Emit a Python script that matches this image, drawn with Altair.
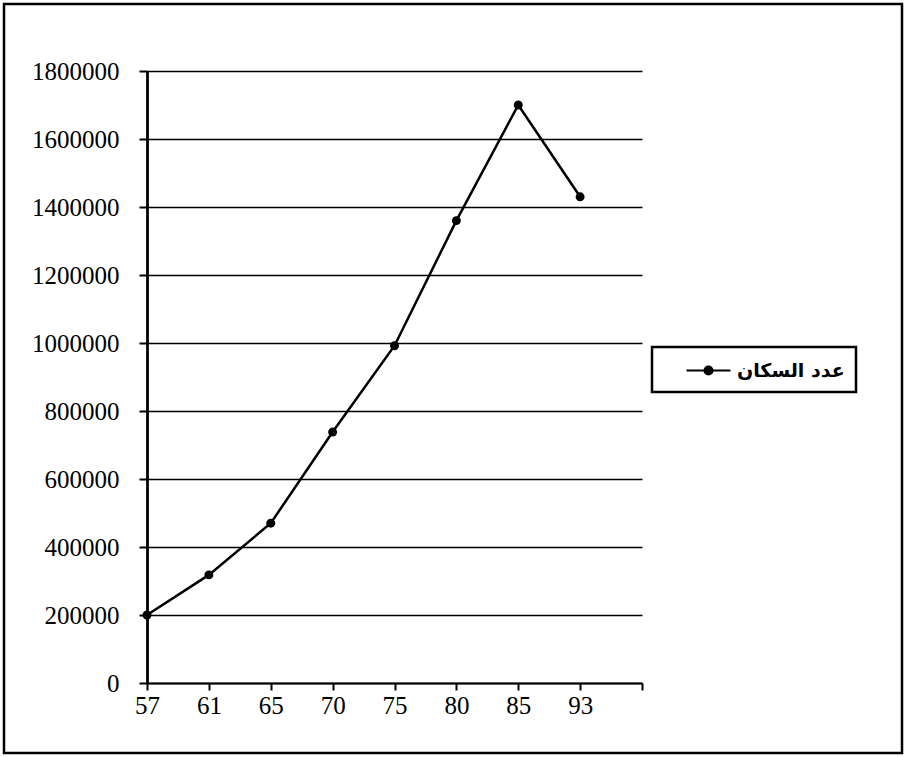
import altair as alt
import pandas as pd

# Census years (two-digit) and population counts
years = ["57", "61", "65", "70", "75", "80", "85", "93"]
population = [200000, 318000, 470000, 738000, 992000, 1360000, 1700000, 1430000]
series_name = "عدد السكان"
y_ticks = [0, 200000, 400000, 600000, 800000, 1000000, 1200000, 1400000, 1600000, 1800000]

df = pd.DataFrame({"year": years, "pop": population, "series": [series_name] * len(years)})

# one trailing empty slot keeps the axis running past the last year
x_domain = years + [" "]

serif = "Liberation Serif"

x_enc = alt.X(
    "year:O",
    scale=alt.Scale(type="point", domain=x_domain, padding=0),
    axis=alt.Axis(
        title=None,
        labelAngle=0,
        labelFont=serif,
        labelFontSize=25,
        labelColor="black",
        labelPadding=3,
        tickSize=7,
        tickColor="black",
        tickWidth=2,
        domainColor="black",
        domainWidth=2.2,
        grid=False,
    ),
)

y_enc = alt.Y(
    "pop:Q",
    scale=alt.Scale(domain=[0, 1800000], nice=False),
    axis=alt.Axis(
        title=None,
        values=y_ticks,
        format="d",
        labelFont=serif,
        labelFontSize=25,
        labelColor="black",
        labelPadding=20,
        tickSize=8,
        tickColor="black",
        tickWidth=2,
        domainColor="black",
        domainWidth=2.8,
        grid=True,
        gridColor="black",
        gridWidth=1.7,
        gridOpacity=1,
    ),
)

# legend symbol: a short line with a dot in its middle
legend_symbol = (
    "M-2,0L2,0M-0.36,0A0.36,0.36,0,1,0,0.36,0A0.36,0.36,0,1,0,-0.36,0Z"
)

line = (
    alt.Chart(df)
    .mark_line(color="black", strokeWidth=2.5, point=alt.OverlayMarkDef(color="black", size=80, filled=True))
    .encode(
        x=x_enc,
        y=y_enc,
        color=alt.Color(
            "series:N",
            scale=alt.Scale(range=["black"]),
            title=None,
            legend=alt.Legend(
                orient="none",
                legendX=505,
                legendY=276,
                strokeColor="black",
                padding=11,
                symbolType=legend_symbol,
                symbolSize=484,
                symbolStrokeColor="black",
                symbolFillColor="black",
                symbolStrokeWidth=2.2,
                symbolOffset=33,
                labelOffset=16,
                labelFont="DejaVu Sans",
                labelFontWeight="bold",
                labelFontSize=19,
                labelColor="black",
            ),
        ),
    )
)

# outer frame of the chart
frame = (
    alt.Chart(pd.DataFrame({"k": [0]}))
    .mark_rect(filled=False, stroke="black", strokeWidth=2.5)
    .encode(
        x=alt.value(-143),
        x2=alt.value(755),
        y=alt.value(-67),
        y2=alt.value(682),
    )
)

chart = (
    alt.layer(line, frame)
    .properties(
        width=495,
        height=612,
        autosize=alt.AutoSizeParams(type="none"),
        padding={"left": 147, "top": 71, "right": 265, "bottom": 74},
        background="white",
    )
    .configure_view(strokeWidth=0)
    .configure_legend(strokeWidth=2.5)
)

chart.save("out.html", embed_options={"renderer": "svg", "actions": False})
